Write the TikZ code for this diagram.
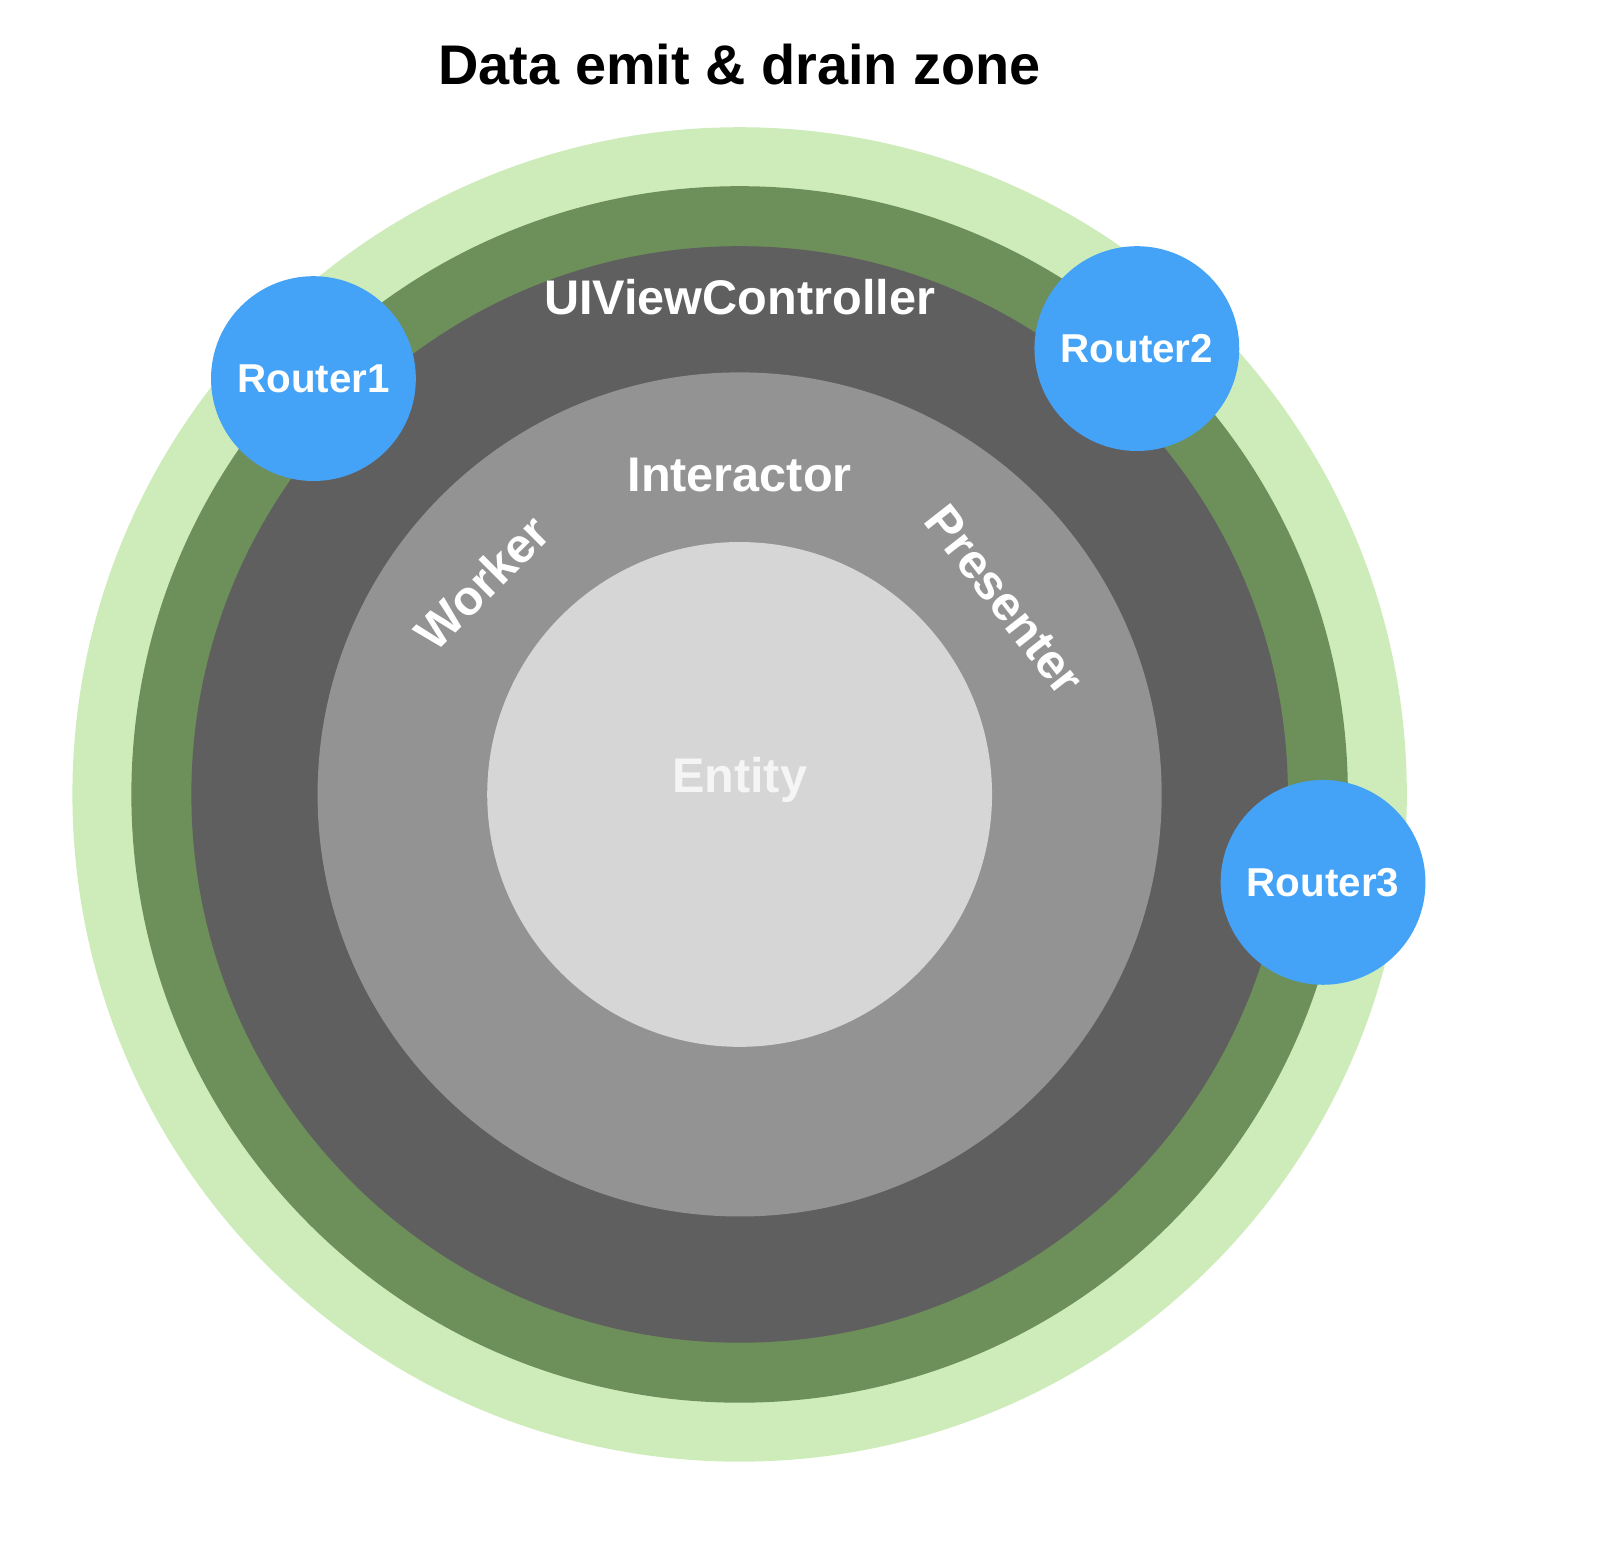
\documentclass[tikz,border=0pt]{standalone}
\usepackage{fontspec}
\setmainfont{Liberation Sans}
\definecolor{ringlight}{HTML}{CDECBA}
\definecolor{ringdark}{HTML}{6D8F5A}
\definecolor{vcgray}{HTML}{5F5F5F}
\definecolor{intgray}{HTML}{939393}
\definecolor{entgray}{HTML}{D6D6D6}
\definecolor{routerblue}{HTML}{44A3F7}
\newcommand{\fsz}[1]{\fontsize{#1}{#1}\selectfont\bfseries}
\tikzset{
    router/.style = {circle, fill=routerblue, minimum size=198pt, inner sep=0pt,
                     text=white, font=\fsz{39}},
    layer/.style  = {text=white, font=\fsz{47}, inner sep=0pt}
}
\begin{document}
\begin{tikzpicture}[x=1pt, y=1pt]
    \useasboundingbox (0,0) rectangle (1568,1496);
    \coordinate (c) at (715,728);
    \fill [color=ringlight] (c) circle (645pt);
    \fill [color=ringdark] (c) circle (588pt);
    \fill [color=vcgray] (c) circle (530pt);
    \fill [color=intgray] (c) circle (408pt);
    \fill [color=entgray] (c) circle (244pt);
    \node [font=\fsz{54}, inner sep=0pt] (title) at (715,1434) {Data emit \& drain zone};
    \node [layer, anchor=base] (vc) at (715,1192) {UIViewController};
    \node [layer, anchor=base] (interactor) at (715,1021) {Interactor};
    \node [layer, anchor=base, text=white!96!black] (entity) at (715,730) {Entity};
    \node [layer, rotate=45] (worker) at (466,933) {Worker};
    \node [layer, rotate=-52] (presenter) at (971,916) {Presenter};
    \node [router] (router1) at (303,1130) {Router1};
    \node [router] (router2) at (1099,1159) {Router2};
    \node [router] (router3) at (1279,643) {Router3};
\end{tikzpicture}
\end{document}
